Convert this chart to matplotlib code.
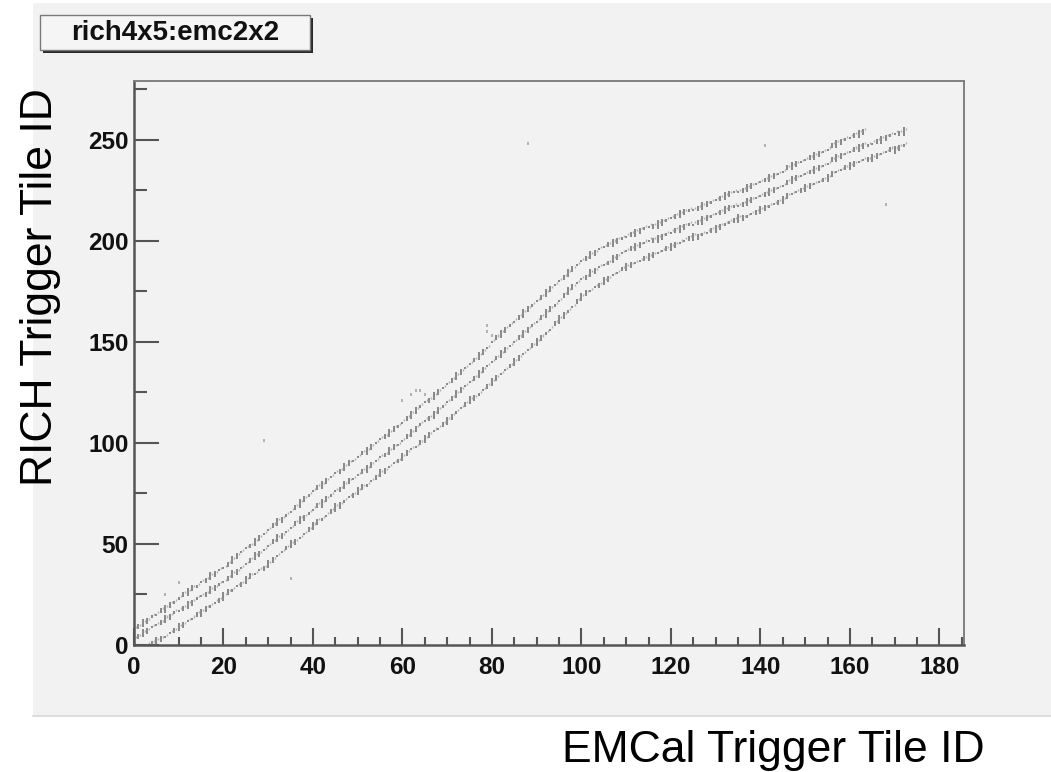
import matplotlib
matplotlib.use("Agg")
import matplotlib.pyplot as plt
import numpy as np
from matplotlib.patches import Rectangle
from matplotlib.lines import Line2D

plt.rcParams["font.family"] = ["Liberation Sans", "DejaVu Sans"]

BG = "#f2f2f2"
DOT = "#888888"

# rich 4x5 trigger tile vs emc 2x2 trigger tile, three correlation bands
emc_mid_start = 0
rich_mid = [3, 4, 6, 7, 9, 10, 11, 13, 14, 16, 17,
            18, 20, 21, 23, 24, 25, 27, 28, 30, 31,
            33, 35, 36, 38, 40, 42, 44, 45, 47, 49,
            51, 53, 54, 56, 58, 60, 62, 63, 65, 67,
            69, 70, 72, 74, 76, 77, 79, 81, 82, 84,
            86, 87, 89, 91, 93, 94, 96, 98, 99, 101,
            103, 105, 107, 109, 111, 112, 114, 116, 118, 120,
            122, 124, 126, 128, 130, 132, 134, 136, 138, 140,
            142, 144, 146, 148, 150, 152, 154, 156, 158, 160,
            162, 164, 166, 168, 170, 173, 175, 177, 179, 181,
            182, 184, 185, 187, 188, 189, 191, 192, 194, 195,
            196, 197, 198, 199, 200, 200, 201, 202, 203, 204,
            205, 206, 207, 208, 208, 209, 210, 211, 212, 213,
            214, 215, 216, 217, 217, 218, 219, 220, 221, 222,
            223, 224, 225, 226, 227, 229, 230, 231, 232, 233,
            234, 235, 236, 237, 238, 240, 241, 242, 243, 244,
            245, 246, 247, 247, 248, 249, 250, 251, 252, 253, 253, 254]

emc_up_start = 0
rich_up = [8, 9, 11, 12, 14, 15, 17, 18, 20, 21, 23,
           25, 26, 28, 29, 31, 32, 34, 35, 37, 38,
           40, 42, 44, 46, 48, 49, 51, 53, 55, 57,
           59, 61, 62, 64, 66, 68, 70, 72, 74, 76,
           78, 79, 81, 83, 85, 86, 88, 90, 91, 93,
           95, 96, 98, 100, 102, 103, 105, 107, 108, 110,
           112, 114, 116, 118, 120, 121, 123, 125, 127, 129,
           131, 133, 135, 137, 139, 141, 143, 145, 147, 150,
           152, 154, 156, 158, 160, 162, 164, 166, 168, 170,
           172, 174, 176, 178, 180, 182, 184, 186, 188, 190,
           191, 193, 194, 196, 197, 198, 199, 200, 201, 202,
           203, 204, 205, 206, 207, 207, 208, 209, 210, 211,
           212, 213, 214, 215, 215, 216, 217, 218, 219, 220,
           221, 222, 223, 224, 224, 225, 226, 227, 228, 229,
           230, 231, 232, 233, 234, 236, 237, 238, 239, 240,
           241, 242, 243, 244, 245, 247, 248, 249, 250, 251,
           252, 253, 254]

emc_lo_start = 3
rich_lo = [0, 1, 2, 3, 4, 6, 7, 9,
           10, 12, 13, 15, 16, 18, 19, 21, 22, 24,
           26, 27, 29, 30, 32, 34, 35, 37, 38, 40,
           42, 44, 46, 48, 50, 51, 53, 55, 57, 59,
           61, 62, 64, 66, 68, 69, 71, 73, 74, 76,
           78, 79, 81, 83, 85, 86, 88, 90, 91, 93,
           95, 97, 98, 100, 102, 104, 106, 107, 109, 111,
           113, 115, 117, 119, 121, 122, 124, 126, 128, 130,
           132, 134, 136, 138, 140, 142, 144, 146, 148, 150,
           152, 154, 156, 159, 161, 163, 165, 167, 170, 172,
           174, 175, 177, 178, 180, 181, 183, 184, 186, 187,
           188, 189, 190, 191, 192, 193, 194, 195, 196, 197,
           198, 199, 200, 201, 202, 202, 203, 204, 205, 206,
           207, 208, 209, 210, 211, 211, 212, 213, 214, 215,
           216, 217, 218, 219, 220, 222, 223, 224, 225, 226,
           227, 228, 229, 230, 231, 233, 234, 235, 236, 237,
           238, 239, 240, 240, 241, 242, 243, 244, 245, 245, 246, 247]

# isolated entries off the bands
emc_stray = [7, 10, 29, 35, 60, 62, 63, 64, 65, 79, 79, 80, 88, 141, 168]
rich_stray = [25, 31, 101, 33, 121, 124, 126, 126, 124, 155, 158, 153, 248, 247, 218]

fig = plt.figure(figsize=(10.51, 7.72), dpi=100)

# canvas pad + bottom edge
fig.patches.append(Rectangle((33 / 1051, 1 - 715 / 772), 1 - 33 / 1051, 712 / 772,
                             transform=fig.transFigure, facecolor=BG, edgecolor="none",
                             zorder=-2))
fig.lines.append(Line2D([33 / 1051, 1], [1 - 716 / 772] * 2, transform=fig.transFigure,
                        color="#d6d6d6", lw=1.2, zorder=-1))

ax = fig.add_axes([134 / 1051, 1 - 645 / 772, 830 / 1051, 564 / 772], zorder=1)
ax.set_facecolor(BG)

# each entry drawn as a short vertical dash; dash length cycles along the band,
# with a faint companion tick one tile above to thicken the band
dash = [1.0, 2.4, 4.0, 3.0, 1.2]
for start, vals in ((emc_up_start, rich_up), (emc_mid_start, rich_mid),
                    (emc_lo_start, rich_lo)):
    x = np.arange(start, start + len(vals))
    y = np.asarray(vals, float)
    h = np.resize(dash, len(vals))
    ax.vlines(x, y - h / 2, y + h / 2, colors=DOT, lw=1.4)
    ax.vlines(x + 0.45, y + 0.6, y + 1.6, colors="#b0b0b0", lw=1.0)
ax.vlines(emc_stray, np.asarray(rich_stray) - 0.8, np.asarray(rich_stray) + 0.8,
          colors="#acacac", lw=1.3)

ax.set_xlim(0, 185.5)
ax.set_ylim(0, 279)
ax.set_xticks(np.arange(0, 181, 20))
ax.set_xticks(np.arange(0, 186, 5), minor=True)
ax.set_yticks(np.arange(0, 251, 50))
ax.set_yticks(np.arange(0, 279, 25), minor=True)
ax.tick_params(which="both", direction="in", colors="#555555", width=1.5,
               labelsize=17.5, labelcolor="#111111", top=False, right=False)
ax.tick_params(axis="x", which="major", length=12, pad=8)
ax.tick_params(axis="x", which="minor", length=6)
ax.tick_params(axis="y", which="major", length=18, pad=4)
ax.tick_params(axis="y", which="minor", length=9)
for lab in ax.get_xticklabels() + ax.get_yticklabels():
    lab.set_fontweight("bold")
for side in ("left", "bottom"):
    ax.spines[side].set_color("#555555")
    ax.spines[side].set_linewidth(1.8)
for side in ("top", "right"):
    ax.spines[side].set_color("#808080")
    ax.spines[side].set_linewidth(1.4)

# title box with drop shadow
bx, by, bw, bh = 40 / 1051, 1 - 50 / 772, 270 / 1051, 35 / 772
fig.patches.append(Rectangle((bx + 3 / 1051, by - 3 / 772), bw, bh, transform=fig.transFigure,
                             facecolor="#2a2a2a", edgecolor="none", zorder=2))
fig.patches.append(Rectangle((bx, by), bw, bh, transform=fig.transFigure,
                             facecolor="#f5f5f5", edgecolor="#7a7a7a", lw=1, zorder=3))
fig.text(bx + bw / 2, by + bh / 2, "rich4x5:emc2x2", ha="center", va="center",
         fontsize=20, fontweight="bold", color="#111111", zorder=4)

fig.text(52 / 1051, 1 - 287 / 772, "RICH Trigger Tile ID", rotation=90,
         rotation_mode="anchor", ha="center", va="baseline", fontsize=32)
fig.text(985 / 1051, 1 - 762 / 772, "EMCal Trigger Tile ID", ha="right",
         va="baseline", fontsize=32)

fig.savefig("out.png", dpi=100, facecolor="white")
